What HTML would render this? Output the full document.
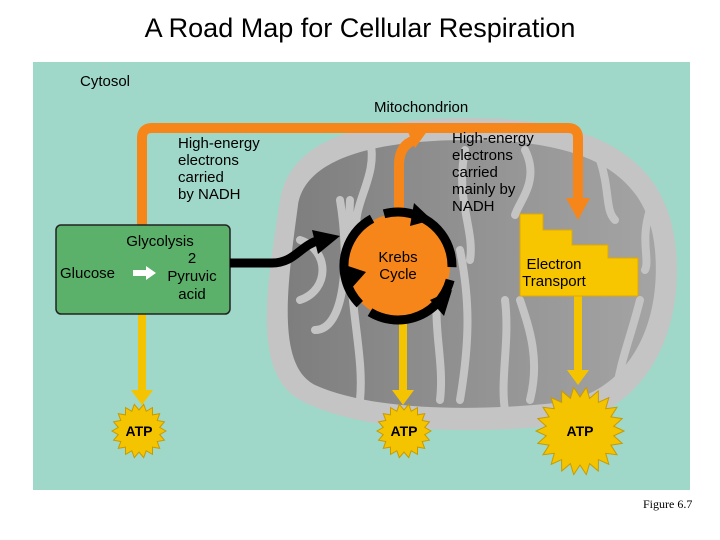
<!DOCTYPE html>
<html><head><style>
body{margin:0;background:#fff;width:720px;height:540px;overflow:hidden}
svg{display:block}
.s{font-family:"Liberation Sans",Arial,sans-serif}
</style></head><body>
<svg width="720" height="540" viewBox="0 0 720 540">
<defs>
<clipPath id="mc"><path d="M280 200 C290 140 360 118 470 118 C600 118 668 160 676 250 C684 340 640 415 560 425 C470 435 360 432 300 400 C250 372 268 280 280 200Z"/></clipPath>
<linearGradient id="ig" x1="0" x2="1" y1="0" y2="0"><stop offset="0" stop-color="#7e7e7e"/><stop offset="0.5" stop-color="#929292"/><stop offset="1" stop-color="#a4a4a4"/></linearGradient>
</defs>
<text class="s" x="360" y="37" font-size="27" text-anchor="middle" fill="#000">A Road Map for Cellular Respiration</text>
<rect x="33" y="62" width="657" height="428" fill="#9fd8c8"/>
<path d="M280 200 C290 140 360 118 470 118 C600 118 668 160 676 250 C684 340 640 415 560 425 C470 435 360 432 300 400 C250 372 268 280 280 200Z" fill="#c4c4c4"/>
<path d="M298 205 C305 160 370 140 470 140 C590 140 648 175 655 250 C662 330 625 395 555 403 C470 412 370 410 315 385 C275 365 288 280 298 205Z" fill="url(#ig)"/>
<g clip-path="url(#mc)" stroke="#c4c4c4" stroke-width="8" fill="none" stroke-linecap="round">
<path d="M300 300 C330 290 330 250 300 240"/>
<path d="M315 330 C345 330 350 260 340 200"/>
<path d="M360 400 C365 350 345 300 350 200"/>
<path d="M370 140 C380 180 345 210 360 240"/>
<path d="M440 400 C445 360 430 320 440 280"/>
<path d="M460 400 C470 340 470 300 460 250"/>
<path d="M465 150 C455 200 475 230 470 260"/>
<path d="M525 150 C540 180 520 200 515 215"/>
<path d="M505 300 C510 340 500 380 505 410"/>
<path d="M520 300 C530 330 540 360 530 400"/>
<path d="M600 160 C610 190 605 210 615 220"/>
<path d="M640 300 C630 340 620 360 615 400"/>
<path d="M650 210 C640 240 650 260 645 270"/>
</g>
<text class="s" x="80" y="86" font-size="15">Cytosol</text>
<text class="s" x="374" y="112" font-size="15">Mitochondrion</text>
<g fill="#f5c400" stroke="#f5c400">
<line x1="142" y1="312" x2="142" y2="392" stroke-width="8"/>
<polygon points="131,390 153,390 142,405" stroke="none"/>
<line x1="403" y1="320" x2="403" y2="392" stroke-width="8"/>
<polygon points="392,390 414,390 403,405" stroke="none"/>
<line x1="578" y1="296" x2="578" y2="372" stroke-width="8"/>
<polygon points="567,370 589,370 578,385" stroke="none"/>
</g>
<path d="M142 226 V138 Q142 128 152 128 H568 Q578 128 578 138 V200" stroke="#f7861a" stroke-width="10" fill="none"/>
<polygon points="566,198 590,198 578,220" fill="#f7861a"/>
<path d="M399 215 V165 Q399 145 415 140" stroke="#f7861a" stroke-width="10" fill="none"/>
<polygon points="408,132 428,130 415,148" fill="#f7861a"/>
<rect x="56" y="225" width="174" height="89" rx="5" fill="#5bb06a" stroke="#222" stroke-width="1.5"/>
<g class="s" font-size="15">
<text x="160" y="246" text-anchor="middle">Glycolysis</text>
<text x="192" y="263" text-anchor="middle">2</text>
<text x="192" y="281" text-anchor="middle">Pyruvic</text>
<text x="192" y="299" text-anchor="middle">acid</text>
<text x="60" y="278">Glucose</text>
</g>
<polygon points="133,270 146,270 146,266 156,273 146,280 146,276 133,276" fill="#fff"/>
<path d="M230 263 H272 C295 263 300 245 320 240" stroke="#000" stroke-width="9" fill="none"/>
<polygon points="312,230 340,236 318,254" fill="#000"/>
<circle cx="398" cy="266" r="52" fill="#f7861a"/>
<circle cx="398" cy="266" r="54" fill="none" stroke="#000" stroke-width="9" stroke-dasharray="100 13" transform="rotate(-105 398 266)"/>
<polygon points="414,203 432,220 410,226" fill="#000"/>
<polygon points="452,290 444,316 430,300" fill="#000"/>
<polygon points="350,290 345,265 366,272" fill="#000"/>
<g class="s" font-size="15">
<text x="398" y="262" text-anchor="middle">Krebs</text>
<text x="398" y="279" text-anchor="middle">Cycle</text>
</g>
<path d="M520 296 V214 H543 V230 H572 V245 H608 V258 H638 V296 Z" fill="#f7c600" stroke="#e0a800"/>
<g class="s" font-size="15">
<text x="554" y="269" text-anchor="middle">Electron</text>
<text x="554" y="286" text-anchor="middle">Transport</text>
<text><tspan x="178" y="148">High-energy</tspan><tspan x="178" y="165">electrons</tspan><tspan x="178" y="182">carried</tspan><tspan x="178" y="199">by NADH</tspan></text>
<text><tspan x="452" y="143">High-energy</tspan><tspan x="452" y="160">electrons</tspan><tspan x="452" y="177">carried</tspan><tspan x="452" y="194">mainly by</tspan><tspan x="452" y="211">NADH</tspan></text>
</g>
<g id="stars"></g>
<g class="s" font-size="14" font-weight="bold" text-anchor="middle">
<text x="139" y="436">ATP</text>
<text x="404" y="436">ATP</text>
<text x="580" y="436">ATP</text>
</g>
<text x="643" y="508" font-size="12" style="font-family:'Liberation Serif',serif">Figure 6.7</text>
</svg>
<script>
function star(cx,cy,r1,r2,n){var p=[];for(var i=0;i<2*n;i++){var r=i%2?r2:r1,a=Math.PI*i/n;p.push((cx+r*Math.cos(a)).toFixed(1)+","+(cy+r*Math.sin(a)).toFixed(1));}return p.join(" ");}
var g=document.getElementById("stars"),ns="http://www.w3.org/2000/svg";
[[139,431,27,21,18],[404,431,27,21,18],[580,431,44,34,22]].forEach(function(s){var e=document.createElementNS(ns,"polygon");e.setAttribute("points",star.apply(null,s));e.setAttribute("fill","#f5c400");e.setAttribute("stroke","#c79a00");g.appendChild(e);});
</script>
</body></html>
